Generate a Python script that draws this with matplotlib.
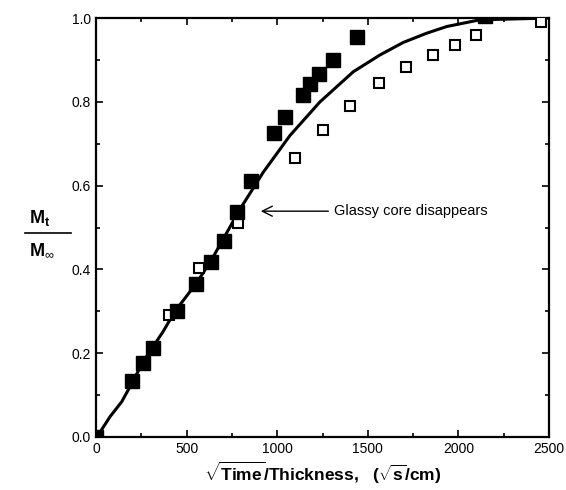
import numpy as np
import matplotlib.pyplot as plt
from matplotlib.ticker import MultipleLocator

plt.rcParams['font.family'] = ['Liberation Sans', 'DejaVu Sans']
plt.rcParams['mathtext.fontset'] = 'custom'
plt.rcParams['mathtext.rm'] = 'Liberation Sans'
plt.rcParams['mathtext.bf'] = 'Liberation Sans:bold'

# filled squares
x_filled = [0, 197, 260, 315, 445, 552, 633, 706, 780, 854, 982, 1043, 1141, 1181, 1232, 1310, 1439, 2147]
y_filled = [0.0, 0.134, 0.177, 0.213, 0.30, 0.364, 0.417, 0.468, 0.536, 0.612, 0.726, 0.763, 0.817, 0.842, 0.866, 0.901, 0.954, 1.005]

# open squares
x_open = [0, 405, 568, 786, 1098, 1255, 1402, 1563, 1711, 1858, 1979, 2096, 2454]
y_open = [0.0, 0.292, 0.404, 0.510, 0.665, 0.734, 0.790, 0.846, 0.884, 0.913, 0.936, 0.960, 0.990]

# model curve
x_curve = [0, 13, 77, 142, 188, 261, 316, 371, 436, 556, 639, 795, 923, 1071, 1236, 1420,
           1567, 1696, 1825, 1936, 2119, 2300, 2487]
y_curve = [0, 0.005, 0.048, 0.084, 0.120, 0.180, 0.216, 0.252, 0.300, 0.368, 0.424, 0.544,
           0.632, 0.720, 0.800, 0.872, 0.912, 0.942, 0.964, 0.980, 0.996, 0.998, 1.0]

fig = plt.figure(figsize=(5.66, 4.9), dpi=100)
ax = fig.add_axes([0.1696, 0.1084, 0.8004, 0.8546])

ax.plot(x_curve, y_curve, color='black', lw=2.2, zorder=2)
ax.plot(x_open, y_open, 's', ms=7.5, mfc='white', mec='black', mew=1.5, ls='none', zorder=3)
ax.plot(x_filled, y_filled, 's', ms=9.5, mfc='black', mec='black', ls='none', zorder=4)

ax.set_xlim(0, 2500)
ax.set_ylim(0, 1.0)
ax.xaxis.set_major_locator(MultipleLocator(500))
ax.xaxis.set_minor_locator(MultipleLocator(250))
ax.yaxis.set_major_locator(MultipleLocator(0.2))
ax.yaxis.set_minor_locator(MultipleLocator(0.1))
ax.tick_params(which='both', direction='in', top=True, right=True, width=1.2, labelsize=10)
ax.tick_params(which='major', length=5)
ax.tick_params(which='minor', length=3)
ax.yaxis.set_major_formatter(plt.FormatStrFormatter('%.1f'))
for s in ax.spines.values():
    s.set_linewidth(1.6)

ax.annotate('Glassy core disappears', xy=(894, 0.539), xytext=(1313, 0.539),
            va='center', ha='left', fontsize=10.5,
            arrowprops=dict(arrowstyle='->', color='black', lw=1.0, mutation_scale=18))

ax.set_xlabel(r'$\mathbf{\sqrt{Time}/Thickness,\ \ (\sqrt{s}/cm)}$', fontsize=12.5, labelpad=3)

# y label as a fraction
fig.text(0.052, 0.555, r'$\mathbf{M}_{\mathbf{t}}$', fontsize=13, ha='left', va='center')
fig.add_artist(plt.Line2D([0.045, 0.125], [0.524, 0.524], color='black', lw=1.2))
fig.text(0.052, 0.49, r'$\mathbf{M}_{\infty}$', fontsize=13, ha='left', va='center')

fig.savefig('out.png', dpi=100)
